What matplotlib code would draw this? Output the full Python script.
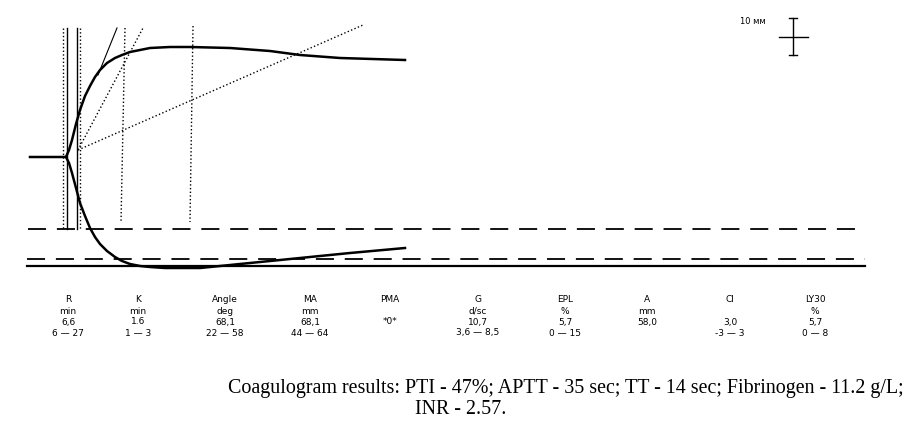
import matplotlib
matplotlib.use('Agg')
import matplotlib.pyplot as plt

# ── TEG trace (x = time axis, y = amplitude, image units) ──
upper_x = [30, 66, 69, 72, 76, 80, 85, 90, 95, 100, 107, 115, 122, 130, 140, 150, 170, 190, 230, 270, 300, 340, 405]
upper_y = [157, 157, 150, 140, 124, 110, 96, 86, 77, 70, 63, 58, 55, 52, 50, 48, 47, 47, 48, 51, 55, 58, 60]
lower_x = [66, 69, 72, 76, 80, 85, 90, 95, 100, 107, 115, 122, 130, 140, 150, 165, 200, 240, 300, 350, 405]
lower_y = [157, 163, 173, 188, 203, 216, 228, 237, 244, 251, 257, 261, 264, 266, 267, 268, 268, 264, 258, 253, 248]

params = ["R", "K", "Angle", "MA", "PMA", "G", "EPL", "A", "CI", "LY30"]
units = ["min", "min", "deg", "mm", "", "d/sc", "%", "mm", "", "%"]
values = ["6,6", "1.6", "68,1", "68,1", "*0*", "10,7", "5,7", "58,0", "3,0", "5,7"]
ranges = ["6 — 27", "1 — 3", "22 — 58", "44 — 64", "", "3,6 — 8,5", "0 — 15", "", "-3 — 3", "0 — 8"]
col_x = [68, 138, 225, 310, 390, 478, 565, 647, 730, 815]

caption_1 = "Coagulogram results: PTI - 47%; APTT - 35 sec; TT - 14 sec; Fibrinogen - 11.2 g/L;"
caption_2 = "INR - 2.57."

fig = plt.figure(figsize=(9.19, 4.4), dpi=100)
ax = fig.add_axes([0, 0, 1, 1])
ax.set_xlim(0, 919)
ax.set_ylim(440, 0)
ax.axis('off')

# curves
ax.plot(upper_x, upper_y, color='black', lw=1.8)
ax.plot(lower_x, lower_y, color='black', lw=1.8)

# horizontal reference lines
ax.plot([28, 865], [229, 229], color='black', lw=1.3, ls=(0, (10, 6)))
ax.plot([27, 865], [259, 259], color='black', lw=1.3, ls=(0, (10, 6)))
ax.plot([27, 865], [266, 266], color='black', lw=1.6)

# vertical markers
ax.plot([63, 63], [28, 229], color='black', lw=1, ls=':')
ax.plot([67, 67], [28, 229], color='black', lw=1)
ax.plot([77, 77], [28, 229], color='black', lw=1)
ax.plot([80, 80], [28, 229], color='black', lw=1, ls=':')
ax.plot([125, 121], [28, 222], color='black', lw=1, ls=':')
ax.plot([193, 190], [26, 222], color='black', lw=1, ls=':')

# angle tangents
ax.plot([98, 117], [75, 28], color='black', lw=0.8)
ax.plot([78, 143], [150, 28], color='black', lw=1, ls=':')
ax.plot([78, 363], [150, 25], color='black', lw=1, ls=':')

# scale cross
ax.text(740, 21, "10 мм", fontsize=6, va='center')
ax.plot([793, 793], [18, 55], color='black', lw=1)
ax.plot([779, 808], [37, 37], color='black', lw=1)
ax.plot([789, 797], [18, 18], color='black', lw=1)
ax.plot([789, 797], [55, 55], color='black', lw=1)

# parameter table
for cx, p, u, v, r in zip(col_x, params, units, values, ranges):
    for ty, t in zip([300, 311, 322, 333], [p, u, v, r]):
        ax.text(cx, ty, t, fontsize=6.5, ha='center', va='center')

ax.text(228, 388, caption_1, fontsize=14.4, ha='left', va='center', family='Liberation Serif')
ax.text(415, 410, caption_2, fontsize=14.4, ha='left', va='center', family='Liberation Serif')

plt.savefig('out.png', dpi=100)
